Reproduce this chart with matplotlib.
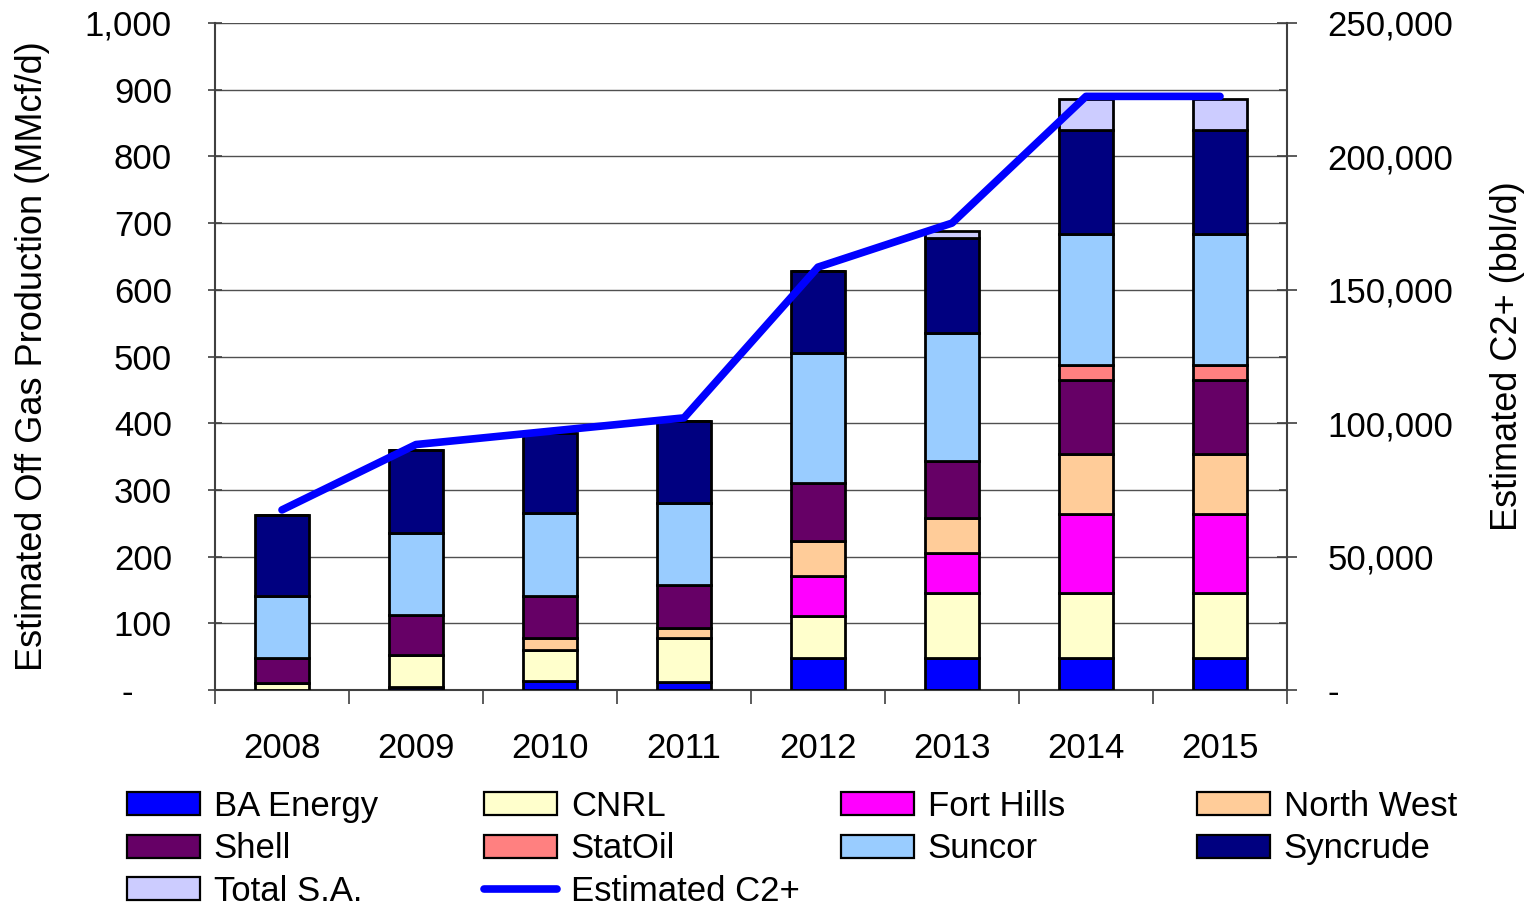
import numpy as np
import matplotlib.pyplot as plt
from matplotlib.patches import Patch
from matplotlib.lines import Line2D
from matplotlib.ticker import FuncFormatter, MultipleLocator

plt.rcParams['font.family'] = ['Liberation Sans', 'DejaVu Sans']

years = ["2008", "2009", "2010", "2011", "2012", "2013", "2014", "2015"]

# off gas production by company (MMcf/d), bottom to top of each stack
ba_energy = [0, 4, 13, 12, 48, 48, 48, 48]
cnrl = [10, 48, 47, 66, 63, 97, 97, 97]
fort_hills = [0, 0, 0, 0, 60, 60, 119, 119]
north_west = [0, 0, 18, 15, 52, 53, 90, 90]
shell = [38, 60, 63, 64, 87, 85, 111, 111]
statoil = [0, 0, 0, 0, 0, 0, 22, 22]
suncor = [93, 123, 124, 123, 195, 192, 196, 196]
syncrude = [121, 125, 120, 124, 123, 143, 157, 157]
total_sa = [0, 0, 0, 0, 0, 10, 46, 46]

# estimated C2+ (bbl/d), right axis
c2_plus = [67500, 92000, 97000, 102000, 158500, 175000, 222500, 222500]

series = [
    ("BA Energy", ba_energy, "#0000FF"),
    ("CNRL", cnrl, "#FFFFCC"),
    ("Fort Hills", fort_hills, "#FF00FF"),
    ("North West", north_west, "#FFCC99"),
    ("Shell", shell, "#660066"),
    ("StatOil", statoil, "#FF8080"),
    ("Suncor", suncor, "#99CCFF"),
    ("Syncrude", syncrude, "#000080"),
    ("Total S.A.", total_sa, "#CCCCFF"),
]

FS = 25

fig = plt.figure(figsize=(15.32, 9.10), dpi=100)
ax = fig.add_axes([215 / 1532, 1 - 690 / 910, (1287 - 215) / 1532, (690 - 23) / 910])
x = np.arange(len(years))

bottom = np.zeros(len(years))
for name, vals, col in series:
    v = np.array(vals, dtype=float)
    ax.bar(x, v, 0.41, bottom=bottom, color=col, edgecolor="black", linewidth=2.0, zorder=3)
    bottom += v

ax.set_xlim(-0.5, len(years) - 0.5)
ax.set_ylim(0, 1000)
ax.yaxis.set_major_locator(MultipleLocator(100))
ax.yaxis.set_major_formatter(FuncFormatter(lambda v, p: "-    " if v == 0 else f"{v:,.0f}"))
ax.grid(axis="y", color="#505050", linewidth=1.0, zorder=0)
ax.set_axisbelow(True)

ax.set_xticks(x)
ax.set_xticklabels(years)
ax.set_xticks(np.arange(-0.5, len(years)), minor=True)
ax.tick_params(axis="x", which="major", length=0, pad=30, labelsize=FS)
ax.tick_params(axis="x", which="minor", length=10, width=1.2, direction="out", color="#404040")
ax.tick_params(axis="y", which="major", length=10, width=1.2, direction="inout", pad=26, labelsize=FS, color="#404040")

ax.spines["top"].set_visible(False)
ax.spines["right"].set_visible(False)
for s in ["left", "bottom"]:
    ax.spines[s].set_color("#404040")
    ax.spines[s].set_linewidth(1.5)

ax.set_ylabel("Estimated Off Gas Production (MMcf/d)", fontsize=26)
ax.yaxis.set_label_coords(-165 / 1072, 0.5)

ax2 = ax.twinx()
ax2.plot(x, c2_plus, color="#0000FF", linewidth=5.5, solid_capstyle="round", zorder=5)
ax2.set_ylim(0, 250000)
ax2.yaxis.set_major_locator(MultipleLocator(50000))
ax2.yaxis.set_minor_locator(MultipleLocator(25000))
ax2.yaxis.set_major_formatter(FuncFormatter(lambda v, p: "-" if v == 0 else f"{v:,.0f}"))
ax2.tick_params(axis="y", which="major", length=14, width=1.2, direction="inout", pad=22, labelsize=FS, color="#404040")
ax2.tick_params(axis="y", which="minor", length=6, width=1.2, direction="in", color="#404040")
for s in ["top", "left", "bottom"]:
    ax2.spines[s].set_visible(False)
ax2.spines["right"].set_color("#404040")
ax2.spines["right"].set_linewidth(1.5)
ax2.set_ylabel("Estimated C2+ (bbl/d)", fontsize=26)
ax2.yaxis.set_label_coords(1 + 203 / 1072, 0.5)

# legend laid out in four fixed-width columns like the original
handles = {name: Patch(facecolor=col, edgecolor="black", linewidth=1.6) for name, _, col in series}
handles["Estimated C2+"] = Line2D([], [], color="#0000FF", linewidth=5.5, solid_capstyle="round")
columns = [
    ["BA Energy", "Shell", "Total S.A."],
    ["CNRL", "StatOil", "Estimated C2+"],
    ["Fort Hills", "Suncor"],
    ["North West", "Syncrude"],
]
col_x = [127, 484, 841, 1197]
for cx, names in zip(col_x, columns):
    fig.legend([handles[n] for n in names], names, loc="upper left",
               bbox_to_anchor=(cx / 1532, 1 - 790 / 910), frameon=False,
               fontsize=FS, borderpad=0, borderaxespad=0, handlelength=2.1,
               handleheight=0.65, handletextpad=0.4, labelspacing=0.27)

fig.savefig("out.png", dpi=100)
